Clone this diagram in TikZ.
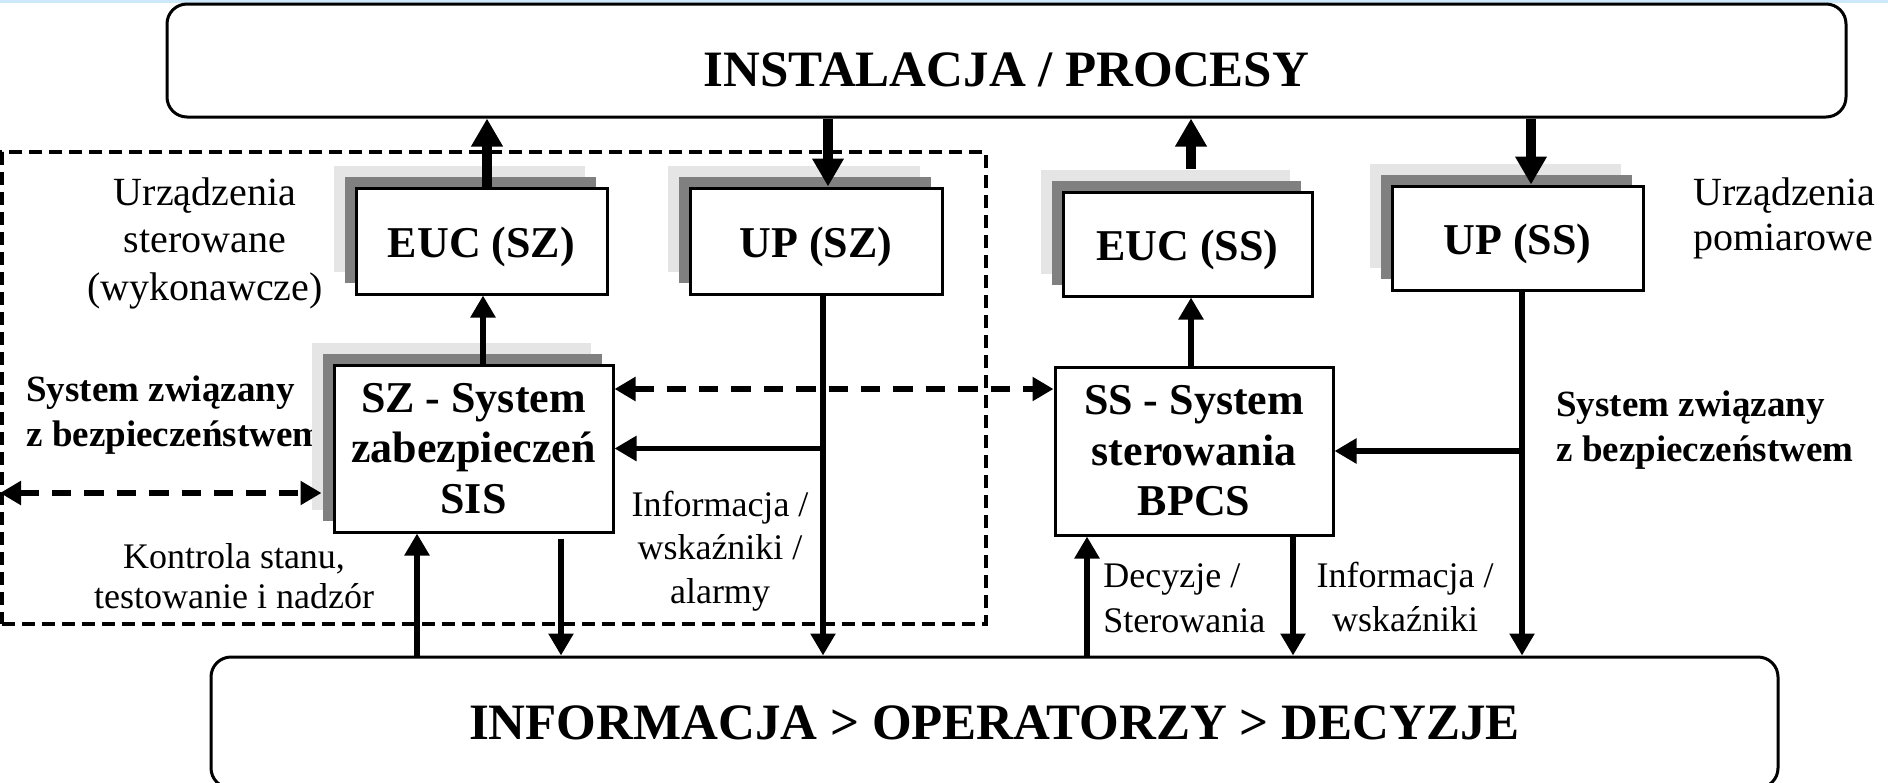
\documentclass[tikz,border=0pt]{standalone}
\usepackage{fontspec}
\setmainfont{Liberation Serif}
\usetikzlibrary{arrows.meta,shadows}
\definecolor{shdark}{RGB}{128,128,128}
\definecolor{shlight}{RGB}{229,229,229}
\definecolor{topblue}{RGB}{204,232,250}
\begin{document}
\begin{tikzpicture}[x=0.5pt,y=-0.5pt,
  box/.style={draw, line width=1.5pt, fill=white, inner sep=0pt, font=\fontsize{22}{25.25}\selectfont\bfseries},
  onebox/.style={box, text height=16pt, text depth=0pt},
  shad/.style={general shadow={fill=shlight, shadow xshift=-11pt, shadow yshift=11pt},
               general shadow={fill=shdark, shadow xshift=-5.5pt, shadow yshift=5.5pt}},
  big/.style={draw, line width=1.5pt, rounded corners=10pt, fill=white, inner sep=0pt, font=\fontsize{25.5}{30}\selectfont\bfseries},
  lab/.style={inner sep=0pt, font=\fontsize{18}{21.5}\selectfont},
  thickarr/.style={line width=5pt, -{Triangle[length=14pt,width=15pt]}},
  medarr/.style={line width=2.9pt, -{Triangle[length=11pt,width=12pt]}},
  dasharr/.style={line width=3pt, dash pattern=on 9.7pt off 6.5pt, {Triangle[length=10.5pt,width=11.5pt]}-{Triangle[length=10.5pt,width=11.5pt]}},
  frame/.style={draw, line width=2pt, dash pattern=on 6.67pt off 3.33pt, inner sep=0pt}
]
\useasboundingbox (0,0) rectangle (1888,782);
\clip (0,0) rectangle (1888,782);
\fill[topblue] (0,0) rectangle (1888,2.5);

% dashed frame of the safety system
\node[frame, minimum width=492pt, minimum height=236pt] (sisframe) at (494,388) {};

% label partly hidden by the SZ shadow (base = last line)
\node[lab, font=\fontsize{18.5}{22.5}\selectfont\bfseries, align=left, anchor=base west] (sys1) at (26,446) {System związany\\z bezpieczeństwem};

% big boxes
\node[big, minimum width=839.5pt, minimum height=56.5pt, text height=25.5pt, text depth=0pt] (top) at (1006.5,60.5) {INSTALACJA / PROCESY};
\node[big, minimum width=783.5pt, minimum height=65.5pt, text height=16.5pt, text depth=0pt] (bot) at (994.5,722.5) {INFORMACJA > OPERATORZY > DECYZJE};

% device boxes
\node[onebox, shad, minimum width=125.5pt, minimum height=53pt] (euc1) at (481.5,241) {EUC (SZ)};
\node[onebox, shad, minimum width=126pt, minimum height=53pt] (up1) at (816,241) {UP (SZ)};
\node[onebox, shad, minimum width=124.5pt, minimum height=52pt] (euc2) at (1187.5,244) {EUC (SS)};
\node[onebox, shad, minimum width=125.5pt, minimum height=52pt] (up2) at (1517.5,238) {UP (SS)};
\node[box, shad, align=center, minimum width=139.5pt, minimum height=83.5pt] (sz) at (473.5,448.5) {SZ - System\\zabezpieczeń\\SIS};
\node[box, align=center, minimum width=139pt, minimum height=84pt] (ss) at (1194,451) {SS - System\\sterowania\\BPCS};

% labels (anchor base = baseline of last line)
\node[lab, font=\fontsize{20}{23.75}\selectfont, align=center, anchor=base] (urz1) at (205,300) {Urządzenia\\sterowane\\(wykonawcze)};
\node[lab, font=\fontsize{20}{22.5}\selectfont, align=left, anchor=base west] (urz2) at (1693,250) {Urządzenia\\pomiarowe};
\node[lab, font=\fontsize{18.5}{22.5}\selectfont\bfseries, align=left, anchor=base west] (sys2) at (1556,461) {System związany\\z bezpieczeństwem};
\node[lab, font=\fontsize{18}{20}\selectfont, align=center, anchor=base] (kontr) at (234,608) {Kontrola stanu,\\testowanie i nadzór};
\node[lab, font=\fontsize{18}{21.75}\selectfont, align=center, anchor=base] (info1) at (720,603) {Informacja /\\wskaźniki /\\alarmy};
\node[lab, font=\fontsize{18}{22.5}\selectfont, align=left, anchor=base west] (dec) at (1103,632) {Decyzje /\\Sterowania};
\node[lab, font=\fontsize{18}{22}\selectfont, align=center, anchor=base] (info2) at (1405,631) {Informacja /\\wskaźniki};

% x positions of connectors
\coordinate (xEa) at (487,0);
\coordinate (xUa) at (828,0);
\coordinate (xEb) at (1191,0);
\coordinate (xUb) at (1531,0);
\coordinate (xSZu) at (483,0);
\coordinate (xSSu) at (1191,0);
\coordinate (xUPa) at (823,0);
\coordinate (xUPb) at (1522,0);
\coordinate (xb1) at (417,0);
\coordinate (xb2) at (561,0);
\coordinate (xb3) at (1087,0);
\coordinate (xb4) at (1293,0);
\coordinate (yd) at (0,389);
\coordinate (lend) at (0,493);

% thick arrows to/from installation
\draw[thickarr] (euc1.north -| xEa) -- (top.south -| xEa);
\draw[thickarr] (top.south -| xUa) -- (up1.north -| xUa);
\draw[thickarr] ([yshift=11pt]euc2.north -| xEb) -- (top.south -| xEb);
\draw[thickarr] (top.south -| xUb) -- (up2.north -| xUb);

% medium arrows
\draw[medarr] (sz.north -| xSZu) -- (euc1.south -| xSZu);
\draw[medarr] (ss.north -| xSSu) -- (euc2.south -| xSSu);
\draw[medarr] (up1.south -| xUPa) -- (bot.north -| xUPa);
\draw[medarr] (sz.east -| xUPa) -- (sz.east);
\draw[medarr] (up2.south -| xUPb) -- (bot.north -| xUPb);
\draw[medarr] (ss.east -| xUPb) -- (ss.east);
\draw[medarr] (bot.north -| xb1) -- (sz.south -| xb1);
\draw[medarr] ([yshift=-2.5pt]sz.south -| xb2) -- (bot.north -| xb2);
\draw[medarr] (bot.north -| xb3) -- (ss.south -| xb3);
\draw[medarr] (ss.south -| xb4) -- (bot.north -| xb4);

% dashed double arrows
\draw[dasharr] (sz.east |- yd) -- (ss.west |- yd);
\draw[dasharr] (lend) -- ([xshift=-5.5pt]sz.west |- lend);
\end{tikzpicture}
\end{document}
